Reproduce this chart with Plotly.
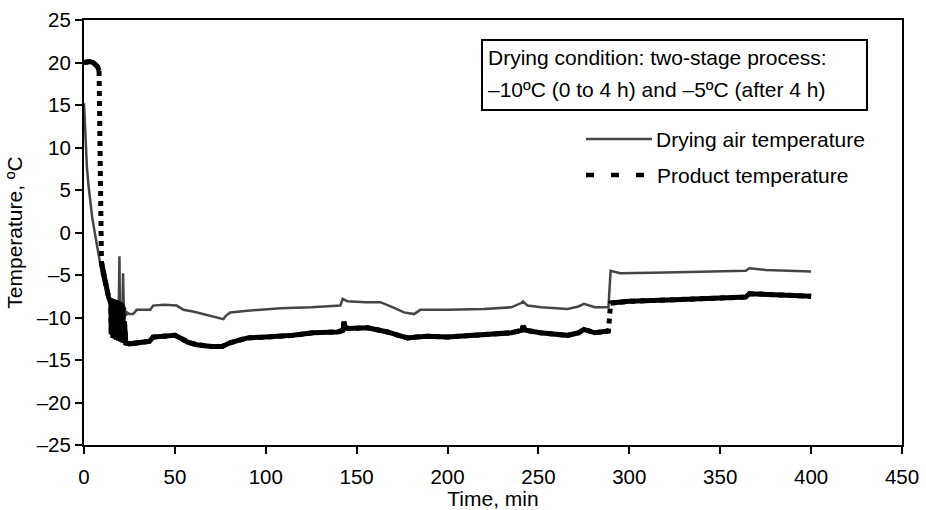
import plotly.graph_objects as go

# ---------------- data ----------------
air_time = [0, 0.5, 1, 1.6, 2.5, 3.5, 4.5, 6, 7.5, 8.8, 10, 11.5, 13, 14.5, 16, 17, 17.5, 18, 18.5,
            19, 19.5, 19.8, 20.3, 21, 21.5, 22, 22.5, 23, 23.7, 25, 27, 29, 33, 36.4, 38, 44, 51,
            54.7, 60, 64, 70, 76.7, 78, 80.5, 90, 108, 125, 141, 142.3, 145, 155, 163, 170, 176,
            181.6, 185, 200, 220, 235, 240.5, 241.5, 244, 251.5, 266, 272, 275, 281, 288.5, 289.7,
            295, 320, 340, 360, 364, 366, 375, 400]
air_temp = [15.2, 12.5, 10.0, 7.7, 5.5, 3.5, 1.8, -0.1, -2.0, -3.6, -5.0, -6.3, -7.5, -8.5, -9.5,
            -10.5, -9.0, -11.0, -8.5, -10.5, -2.8, -10.8, -9.0, -10.5, -4.8, -10.2, -8.8, -9.8, -9.4,
            -9.6, -9.6, -9.1, -9.1, -9.1, -8.6, -8.5, -8.6, -9.1, -9.3, -9.5, -9.8, -10.2, -9.8, -9.4,
            -9.2, -8.9, -8.8, -8.6, -7.8, -8.1, -8.2, -8.2, -8.8, -9.4, -9.6, -9.1, -9.1, -9.0, -8.8,
            -8.3, -8.1, -8.6, -8.8, -9.0, -8.7, -8.4, -8.8, -8.8, -4.5, -4.8, -4.7, -4.6, -4.5, -4.5,
            -4.2, -4.4, -4.6]

prod_time = [0, 1.5, 3, 5, 6.5, 7.5, 8.3, 8.7, 9.6, 10.5, 12, 13.5,
             14.25, 14.5, 14.75, 15.0, 15.25, 15.5, 15.75, 16.0, 16.25, 16.5, 16.75, 17.0, 17.25,
             17.5, 17.75, 18.0, 18.25, 18.5, 18.75, 19.0, 19.25, 19.5, 19.75, 20.0, 20.25, 20.5,
             20.75, 21.0, 21.25, 21.5, 21.75, 22.0, 22.25, 22.6,
             23, 25, 28, 33, 36, 38, 42, 50, 53, 57, 62, 70, 76, 80, 85, 90, 100, 115,
             126, 139.5, 142.5, 143, 143.5, 145, 156, 162, 167, 173, 178, 183, 189, 200, 215, 235,
             241, 241.5, 243, 251, 266, 272, 275, 281, 288.5, 289.7, 300, 325, 350, 364, 366, 375,
             400]
prod_temp = [20.0, 20.1, 20.1, 20.0, 19.8, 19.5, 19.0, 7.0, -3.5, -4.5, -6.5, -7.6,
             -8.0, -11.0, -7.9, -12.0, -8.0, -12.3, -7.9, -12.4, -8.1, -12.2, -8.0, -12.5, -8.2,
             -12.4, -8.0, -12.6, -8.3, -12.5, -8.1, -12.7, -8.4, -12.6, -8.2, -12.8, -8.5, -12.7,
             -8.4, -12.9, -8.6, -12.8, -9.0, -13.0, -10.5, -13.0,
             -13.0, -13.1, -13.0, -12.9, -12.8, -12.3,
             -12.2, -12.1, -12.4, -12.9, -13.2, -13.4, -13.4, -13.0, -12.7, -12.4, -12.3, -12.1,
             -11.8, -11.7, -11.5, -10.5, -11.0, -11.3, -11.2, -11.4, -11.7, -12.1, -12.4, -12.3,
             -12.2, -12.3, -12.1, -11.8, -11.5, -11.0, -11.5, -11.8, -12.1, -11.8, -11.4, -11.8,
             -11.6, -8.3, -8.1, -7.9, -7.7, -7.6, -7.2, -7.3, -7.5]

x_ticks = [0, 50, 100, 150, 200, 250, 300, 350, 400, 450]
y_ticks = [25, 20, 15, 10, 5, 0, -5, -10, -15, -20, -25]
y_tick_text = ["25", "20", "15", "10", "5", "0", "–5", "–10", "–15", "–20", "–25"]

title_lines = ["Drying condition: two-stage process:", "–10ºC (0 to 4 h) and –5ºC (after 4 h)"]
series_names = ["Drying air temperature", "Product temperature"]

# ---------------- layout geometry ----------------
W, H = 926, 510
L, R, T, B = 84, 902, 20, 445
FONT = "Liberation Sans, Arial, Helvetica, sans-serif"
AIR_COLOR = "#454545"
TXT = 21


def fx(px):
    return (px - L) / (R - L)


def fy(py):
    return (B - py) / (B - T)


# solid copy of the product series; the long, slow jumps are left to the dotted trace
solid_x, solid_y = [prod_time[0]], [prod_temp[0]]
for i in range(1, len(prod_time)):
    dT = abs(prod_temp[i] - prod_temp[i - 1])
    dt = prod_time[i] - prod_time[i - 1]
    if dT > 3.0 and dt > 0.3:
        solid_x.append(None)
        solid_y.append(None)
    solid_x.append(prod_time[i])
    solid_y.append(prod_temp[i])

fig = go.Figure()
fig.add_trace(go.Scatter(x=air_time, y=air_temp, mode="lines", name=series_names[0],
                         line=dict(color=AIR_COLOR, width=2.5), showlegend=False))
fig.add_trace(go.Scatter(x=prod_time, y=prod_temp, mode="lines", name=series_names[1],
                         line=dict(color="black", width=5, dash="5px,5px"), showlegend=False))
fig.add_trace(go.Scatter(x=solid_x, y=solid_y, mode="lines", name=series_names[1],
                         line=dict(color="black", width=5), showlegend=False, connectgaps=False))

shapes = [
    dict(type="rect", xref="paper", yref="paper", x0=fx(482), x1=fx(867), y0=fy(110), y1=fy(40),
         line=dict(color="black", width=2), fillcolor="white", layer="below"),
    dict(type="line", xref="paper", yref="paper", x0=fx(586), x1=fx(652), y0=fy(139), y1=fy(139),
         line=dict(color=AIR_COLOR, width=2.5)),
    dict(type="line", xref="paper", yref="paper", x0=fx(586), x1=fx(644), y0=fy(175), y1=fy(175),
         line=dict(color="black", width=4.5, dash="8px,17px")),
]

annotations = [
    dict(text=title_lines[0], xref="paper", yref="paper", x=fx(486), y=fy(58),
         xanchor="left", yanchor="middle", showarrow=False, font=dict(size=TXT)),
    dict(text=title_lines[1], xref="paper", yref="paper", x=fx(486), y=fy(89),
         xanchor="left", yanchor="middle", showarrow=False, font=dict(size=TXT)),
    dict(text=series_names[0], xref="paper", yref="paper", x=fx(654), y=fy(139),
         xanchor="left", yanchor="middle", showarrow=False, font=dict(size=TXT)),
    dict(text=series_names[1], xref="paper", yref="paper", x=fx(655), y=fy(175),
         xanchor="left", yanchor="middle", showarrow=False, font=dict(size=TXT)),
]

fig.update_layout(
    width=W, height=H,
    margin=dict(l=L, r=W - R, t=T, b=H - B, pad=0, autoexpand=False),
    paper_bgcolor="white", plot_bgcolor="white",
    font=dict(family=FONT, size=20.5, color="black"),
    shapes=shapes, annotations=annotations, showlegend=False,
    xaxis=dict(range=[0, 450], tickvals=x_ticks, ticks="outside", ticklen=7, tickwidth=1.5,
               tickcolor="black", showline=True, linecolor="black", linewidth=2, mirror=True,
               showgrid=False, zeroline=False, ticklabelstandoff=5, automargin=False,
               title=dict(text="Time, min", standoff=8, font=dict(size=TXT))),
    yaxis=dict(range=[-25, 25], tickvals=y_ticks, ticktext=y_tick_text, ticks="outside",
               ticklen=7, tickwidth=1.5, tickcolor="black", showline=True, linecolor="black",
               linewidth=2, mirror=True, showgrid=False, zeroline=False, automargin=False,
               title=dict(text="Temperature, ºC", standoff=8, font=dict(size=TXT))),
)

fig.write_html("out.html", config={"displayModeBar": False})
